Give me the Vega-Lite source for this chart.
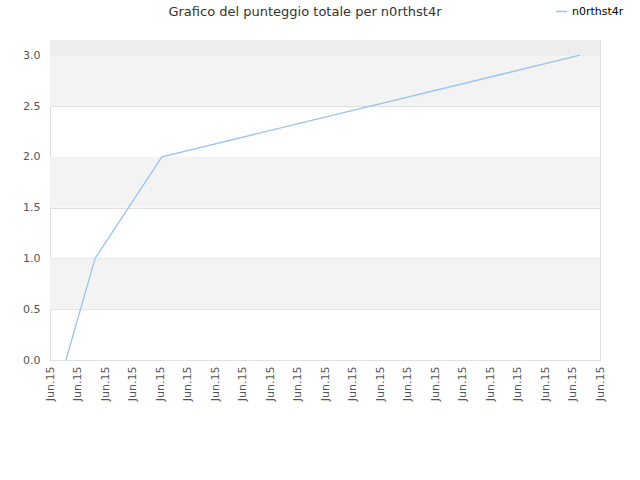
{
  "$schema": "https://vega.github.io/schema/vega-lite/v6.json",
  "autosize": {"type": "none"},
  "padding": {"left": 50, "top": 40, "right": 40, "bottom": 120},
  "width": 550,
  "height": 320,
  "background": "white",
  "config": {
    "font": "DejaVu Sans",
    "view": {"stroke": "#dddddd", "strokeWidth": 1},
    "axis": {
      "labelColor": "#555555",
      "labelFontSize": 11,
      "labelFont": "DejaVu Sans",
      "ticks": false,
      "domain": false,
      "title": null
    }
  },
  "title": {
    "text": "Grafico del punteggio totale per n0rthst4r",
    "fontSize": 13,
    "fontWeight": "normal",
    "color": "#333333",
    "font": "DejaVu Sans",
    "anchor": "middle",
    "dx": -20,
    "offset": 0,
    "dy": 14
  },
  "datasets": {
    "bande": [
      {"da": 0.5, "a": 1.0, "tono": "chiaro"},
      {"da": 1.5, "a": 2.0, "tono": "chiaro"},
      {"da": 2.5, "a": 3.0, "tono": "chiaro"},
      {"da": 3.0, "a": 3.15, "tono": "scuro"}
    ],
    "punteggi": [
      {"giorno": 0.58, "punteggio": 0, "giocatore": "n0rthst4r"},
      {"giorno": 1.64, "punteggio": 1, "giocatore": "n0rthst4r"},
      {"giorno": 4.07, "punteggio": 2, "giocatore": "n0rthst4r"},
      {"giorno": 19.27, "punteggio": 3, "giocatore": "n0rthst4r"}
    ]
  },
  "layer": [
    {
      "data": {"name": "bande"},
      "mark": {"type": "rect", "x": 0, "x2": {"expr": "width"}},
      "encoding": {
        "y": {"field": "da", "type": "quantitative"},
        "y2": {"field": "a"},
        "fill": {
          "field": "tono",
          "type": "nominal",
          "scale": {"domain": ["chiaro", "scuro"], "range": ["#f3f3f3", "#ededed"]},
          "legend": null
        }
      }
    },
    {
      "data": {"name": "punteggi"},
      "mark": {"type": "line", "strokeWidth": 1.3, "clip": true},
      "encoding": {
        "x": {
          "field": "giorno",
          "type": "quantitative",
          "scale": {"domain": [0, 20], "nice": false, "zero": false},
          "axis": {
            "values": [0,1,2,3,4,5,6,7,8,9,10,11,12,13,14,15,16,17,18,19,20],
            "labelExpr": "'Jun.15'",
            "labelAngle": 270,
            "labelPadding": 6,
            "grid": false,
            "labelOverlap": false
          }
        },
        "y": {
          "field": "punteggio",
          "type": "quantitative",
          "scale": {"domain": [0, 3.15], "nice": false},
          "axis": {
            "values": [0, 0.5, 1, 1.5, 2, 2.5, 3],
            "format": ".1f",
            "grid": true,
            "gridColor": "#e0e0e0",
            "labelPadding": 10
          }
        },
        "color": {
          "field": "giocatore",
          "type": "nominal",
          "scale": {"range": ["#97c4f0"]},
          "legend": {
            "title": null,
            "orient": "none",
            "legendX": 505,
            "legendY": -35,
            "symbolType": "stroke",
            "symbolSize": 120,
            "symbolStrokeWidth": 1.5,
            "labelFontSize": 11,
            "labelColor": "#000000",
            "labelFont": "DejaVu Sans"
          }
        }
      }
    }
  ]
}
